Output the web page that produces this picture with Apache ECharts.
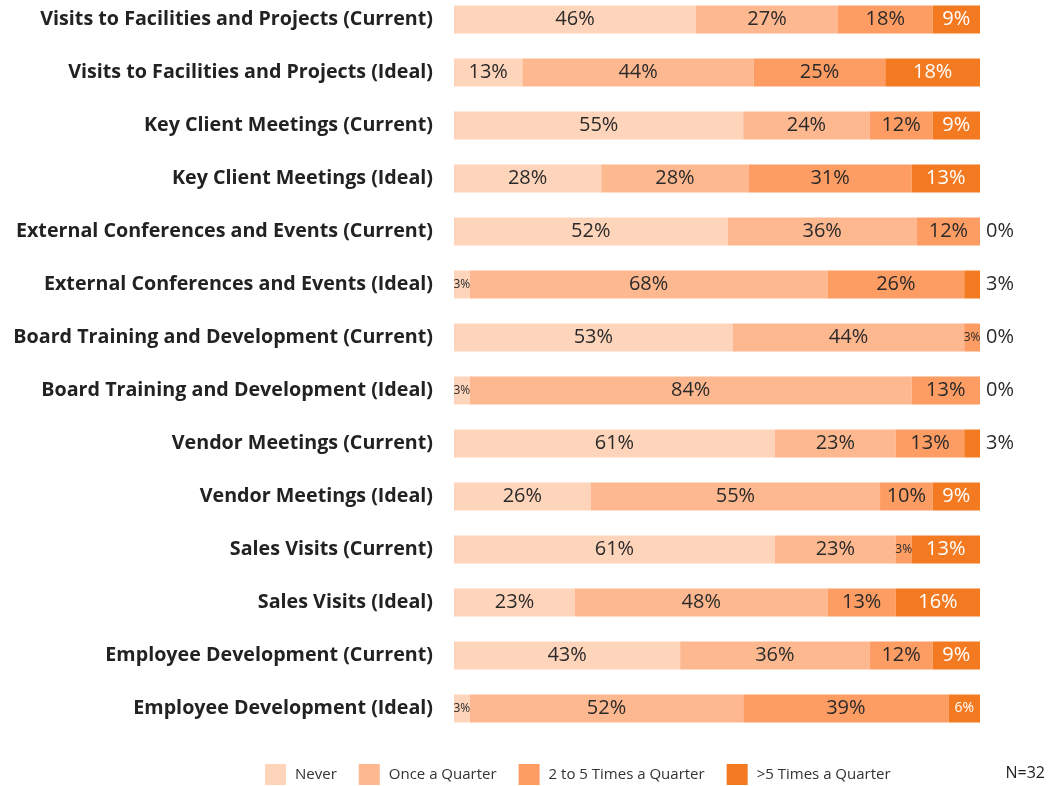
<!DOCTYPE html>
<html>
<head>
<meta charset="utf-8">
<script src="https://cdn.jsdelivr.net/npm/echarts@6/dist/echarts.min.js"></script>
<style>
  html, body { margin: 0; padding: 0; background: #fff; overflow: hidden; }
  #chart { width: 1050px; height: 793px; margin-top: -7px; }
</style>
</head>
<body>
<div id="chart"></div>
<script>
const categories = [
  "Visits to Facilities and Projects (Current)",
  "Visits to Facilities and Projects (Ideal)",
  "Key Client Meetings (Current)",
  "Key Client Meetings (Ideal)",
  "External Conferences and Events (Current)",
  "External Conferences and Events (Ideal)",
  "Board Training and Development (Current)",
  "Board Training and Development (Ideal)",
  "Vendor Meetings (Current)",
  "Vendor Meetings (Ideal)",
  "Sales Visits (Current)",
  "Sales Visits (Ideal)",
  "Employee Development (Current)",
  "Employee Development (Ideal)"
];
const seriesNames = ["Never", "Once a Quarter", "2 to 5 Times a Quarter", ">5 Times a Quarter"];
const never = [46, 13, 55, 28, 52, 3, 53, 3, 61, 26, 61, 23, 43, 3];
const onceQuarter = [27, 44, 24, 28, 36, 68, 44, 84, 23, 55, 23, 48, 36, 52];
const twoToFive = [18, 25, 12, 31, 12, 26, 3, 13, 13, 10, 3, 13, 12, 39];
const overFive = [9, 18, 9, 13, 0, 3, 0, 0, 3, 9, 13, 16, 9, 6];
const sampleNote = "N=32";

const colors = ["#fed4ba", "#feb88f", "#fd9c63", "#f47a22"];
const font = "'Open Sans', sans-serif";

// small segments get a smaller label
const labelSize = (v) => (v <= 3 ? 12 : v <= 6 ? 14 : 20);

const buildSeries = (name, values, idx) => {
  const isLast = idx === 3;
  return {
    name,
    type: "bar",
    stack: "total",
    barWidth: 28,
    itemStyle: { color: colors[idx] },
    data: values.map((v) => {
      const outside = isLast && v <= 3;
      return {
        value: v,
        label: {
          show: true,
          position: outside ? "right" : "inside",
          distance: 6,
          formatter: "{c}%",
          fontFamily: font,
          fontSize: outside ? 20 : labelSize(v),
          color: outside ? "#2a2a2a" : isLast ? "#ffffff" : "#2a2a2a"
        }
      };
    })
  };
};

const chart = echarts.init(document.getElementById("chart"));
chart.setOption({
  animation: false,
  color: colors,
  grid: { left: 454, right: 70, top: 0, height: 742 },
  legend: {
    left: 265,
    bottom: 1,
    padding: 0,
    itemWidth: 21,
    itemHeight: 21,
    itemGap: 22,
    icon: "rect",
    textStyle: { fontFamily: font, fontSize: 15, color: "#333", padding: [0, 0, 0, 4] },
    data: seriesNames
  },
  xAxis: {
    type: "value",
    min: 0,
    max: 100,
    show: false
  },
  yAxis: {
    type: "category",
    inverse: true,
    data: categories,
    axisLine: { show: false },
    axisTick: { show: false },
    axisLabel: {
      margin: 21,
      fontFamily: font,
      fontSize: 19.7,
      fontWeight: "bold",
      color: "#222"
    }
  },
  graphic: [
    {
      type: "text",
      right: 5,
      bottom: 5,
      style: { text: sampleNote, fontFamily: font, fontSize: 16, fill: "#222" }
    }
  ],
  series: [
    buildSeries(seriesNames[0], never, 0),
    buildSeries(seriesNames[1], onceQuarter, 1),
    buildSeries(seriesNames[2], twoToFive, 2),
    buildSeries(seriesNames[3], overFive, 3)
  ]
});
</script>
</body>
</html>
